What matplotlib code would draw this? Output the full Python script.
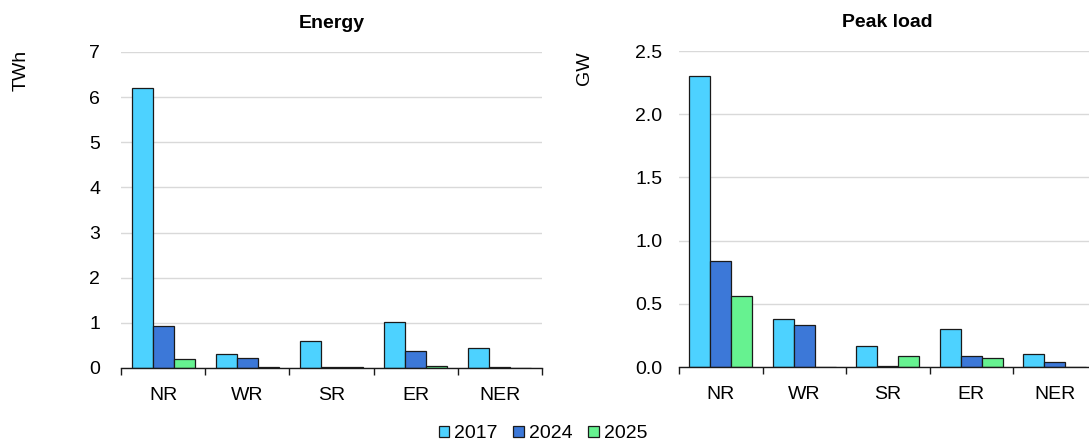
import matplotlib
matplotlib.use("Agg")
import matplotlib.pyplot as plt
import numpy as np
from matplotlib.patches import Patch

plt.rcParams['font.family'] = ['Liberation Sans', 'DejaVu Sans']

regions = ["NR", "WR", "SR", "ER", "NER"]
years = ["2017", "2024", "2025"]

# Energy (TWh)
energy_2017 = [6.21, 0.32, 0.60, 1.03, 0.44]
energy_2024 = [0.94, 0.22, 0.02, 0.37, 0.02]
energy_2025 = [0.20, 0.02, 0.02, 0.05, 0.01]

# Peak load (GW)
peak_2017 = [2.30, 0.38, 0.17, 0.30, 0.10]
peak_2024 = [0.84, 0.33, 0.005, 0.09, 0.04]
peak_2025 = [0.56, 0.0, 0.09, 0.075, 0.0]

colors = ["#4DD2FF", "#3C78D8", "#66F290"]
edge = "#1a1a1a"
fs = 14


def draw(ax, series, ymax, ystep, fmt, title, pad):
    x = np.arange(len(regions))
    w = 0.25
    for i, vals in enumerate(series):
        ax.bar(x + (i - 1) * w, vals, w, color=colors[i], edgecolor=edge,
               linewidth=0.9, zorder=3)
    ax.set_xlim(-0.5, len(regions) - 0.5)
    ax.set_ylim(0, ymax)
    ax.set_yticks(np.arange(0, ymax + ystep / 2, ystep))
    ax.yaxis.set_major_formatter(matplotlib.ticker.FormatStrFormatter(fmt))
    ax.set_xticks(x)
    ax.set_xticklabels(regions)
    ax.set_xticks(np.arange(-0.5, len(regions)), minor=True)
    ax.tick_params(axis="x", which="major", length=0, pad=14, labelsize=fs)
    ax.tick_params(axis="x", which="minor", length=5, width=1, color=edge)
    ax.tick_params(axis="y", length=0, pad=pad, labelsize=fs)
    ax.grid(axis="y", color="#D9D9D9", linewidth=1, zorder=0)
    for s in ["top", "right", "left"]:
        ax.spines[s].set_visible(False)
    ax.spines["bottom"].set_color(edge)
    ax.spines["bottom"].set_linewidth(1)
    ax.spines["bottom"].set_zorder(4)
    ax.set_title(title, fontsize=fs, fontweight="bold", pad=17)
    return ax


fig = plt.figure(figsize=(10.89, 4.46), dpi=100)
ax1 = fig.add_axes([121 / 1089, 1 - 368 / 446, 421 / 1089, 316 / 446])
ax2 = fig.add_axes([679 / 1089, 1 - 367 / 446, 417.5 / 1089, 316 / 446])

draw(ax1, [energy_2017, energy_2024, energy_2025], 7, 1, "%d", "Energy", 15)
draw(ax2, [peak_2017, peak_2024, peak_2025], 2.5, 0.5, "%.1f", "Peak load", 12)

fig.text(21 / 1089, 1 - 70 / 446, "TWh", rotation=90, ha="center", va="center", fontsize=fs)
fig.text(585 / 1089, 1 - 68 / 446, "GW", rotation=90, ha="center", va="center", fontsize=fs)

handles = [Patch(facecolor=c, edgecolor=edge, linewidth=0.9) for c in colors]
fig.legend(handles, years, loc="center", bbox_to_anchor=(543 / 1089, 1 - 434 / 446),
           ncol=3, frameon=False, fontsize=fs, handlelength=0.55, handleheight=0.55,
           handletextpad=0.25, columnspacing=0.8, borderpad=0)

fig.savefig("out.png", dpi=100)
